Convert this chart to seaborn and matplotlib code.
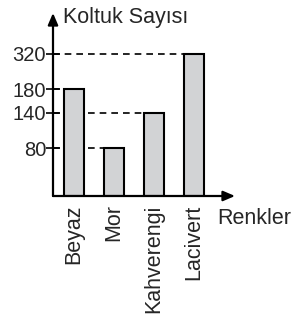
import numpy as np
import matplotlib
matplotlib.use("Agg")
import matplotlib.pyplot as plt
import seaborn as sns

# data
renkler = ["Beyaz", "Mor", "Kahverengi", "Lacivert"]
koltuk = [180, 80, 140, 320]
yticks = [80, 140, 180, 320]

sns.set_style("white")
plt.rcParams['font.family'] = ['Liberation Sans', 'DejaVu Sans']

# the original axis is squeezed above ~200 (schematic drawing)
brk, k = 200.0, 0.33

def fwd(v):
    v = np.asarray(v, dtype=float)
    return np.where(v <= brk, v, brk + (v - brk) * k)

def inv(t):
    t = np.asarray(t, dtype=float)
    return np.where(t <= brk, t, brk + (t - brk) / k)

fig = plt.figure(figsize=(2.95, 3.27), dpi=100)
ax = fig.add_axes([53/295, 131/327, 182/295, 183/327])

sns.barplot(x=renkler, y=koltuk, color="#d2d3d5", edgecolor="black",
            linewidth=1.5, width=0.5, saturation=1, ax=ax, zorder=3)

ax.set_yscale("function", functions=(fwd, inv))
ax.set_xlim(-0.525, 4.025)
ax.set_ylim(0, float(inv(308)))

# dashed guides from y axis to the bar edge
for i, v in enumerate(koltuk):
    ax.hlines(v, -0.525, i - 0.25, colors="black", linestyles=(0, (4, 3)),
              linewidth=1.2, zorder=1)

for s in ax.spines.values():
    s.set_visible(False)

# axes with arrows
ax.annotate("", xy=(0, 1.0), xytext=(0, 0), xycoords="axes fraction",
            arrowprops=dict(arrowstyle="-|>,head_length=0.7,head_width=0.3",
                            color="black", lw=1.6, shrinkA=0, shrinkB=0))
ax.annotate("", xy=(1.0, 0), xytext=(0, 0), xycoords="axes fraction",
            arrowprops=dict(arrowstyle="-|>,head_length=0.7,head_width=0.3",
                            color="black", lw=1.6, shrinkA=0, shrinkB=0))

ax.set_yticks(yticks)
ax.set_yticklabels([str(t) for t in yticks], fontsize=14.5)
ax.tick_params(axis="y", length=10, width=1.2, color="black", pad=0,
               left=True, direction="inout")
ax.tick_params(axis="x", length=0, pad=6)
ax.set_xticks(range(len(renkler)))
ax.set_xticklabels(renkler, rotation=90, fontsize=15.5, va="top", ha="center")
ax.set_xlabel("")
ax.set_ylabel("")

fig.text(63/295, 1 - 18/327, "Koltuk Sayısı", fontsize=15.5, va="center", ha="left")
fig.text(217/295, 1 - 218/327, "Renkler", fontsize=15.5, va="center", ha="left")

fig.savefig("out.png", dpi=100)
